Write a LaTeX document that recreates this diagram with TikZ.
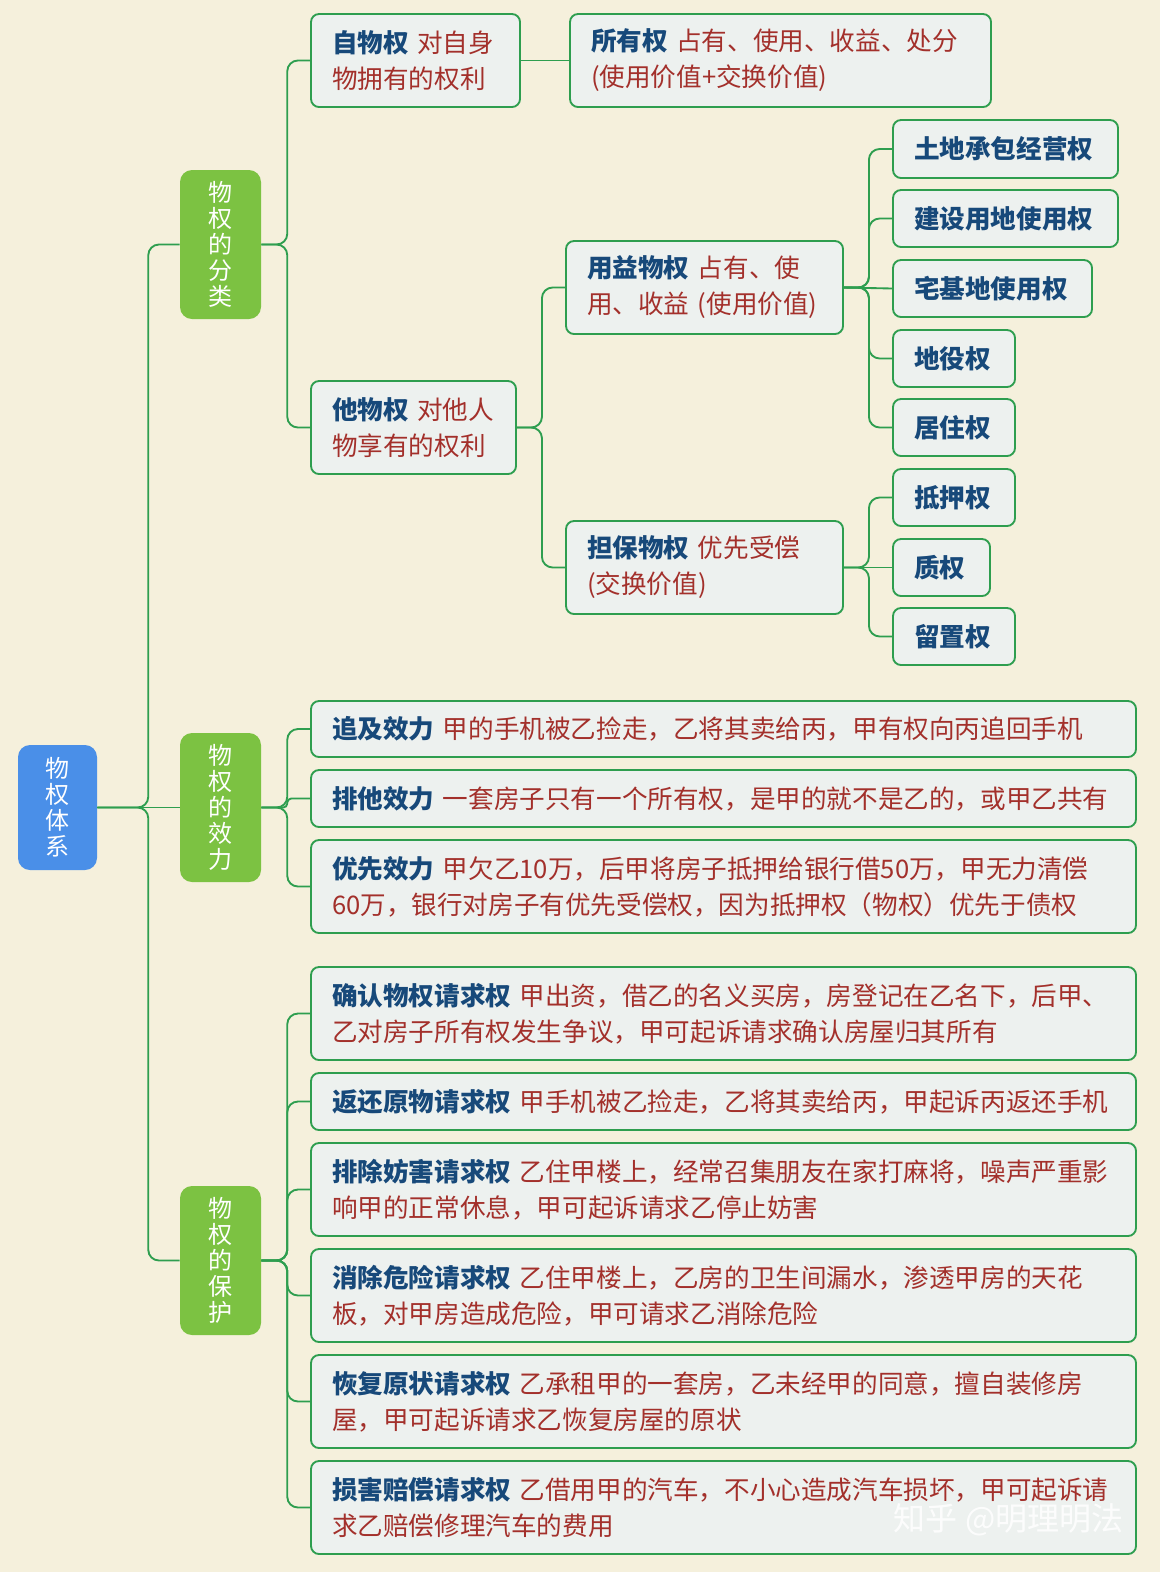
\documentclass[tikz,border=0pt]{standalone}
\usepackage{fontspec}
\setmainfont{Noto Sans CJK SC}
\XeTeXlinebreaklocale "zh"
\XeTeXlinebreakskip=0pt plus 1pt
\definecolor{bg}{HTML}{F5F0DC}
\definecolor{gl}{HTML}{2E9E4F}
\definecolor{bf}{HTML}{EDF1EF}
\definecolor{tb}{HTML}{17497A}
\definecolor{tr}{HTML}{A3302B}
\definecolor{cat}{HTML}{7CC242}
\definecolor{rt}{HTML}{4A8FE8}
\newcommand\T[1]{{\bfseries\color{tb}#1}}
\newcommand\bx[6]{%
 \pgfmathsetmacro\bw{(#4-#2)*0.75}\pgfmathsetmacro\bh{(#5-#3)*0.75}\pgfmathsetmacro\tw{(#4-#2-42)*0.75}%
 \node[box,minimum width=\bw pt,minimum height=\bh pt,text width=\tw pt] (#1) at ({(#2+#4)/2},{(#3+#5)/2}) {#6};}
\newcommand\cb[4]{%
 \node[catb,minimum height={(#3-#2)*0.75pt}] (#1) at (220.5,{(#2+#3)/2}) {#4};}
\begin{document}
\begin{tikzpicture}[x=0.75pt,y=-0.75pt,
 box/.style={draw=gl,line width=1.4pt,fill=bf,rounded corners=6pt,inner xsep=15.75pt,inner ysep=0pt,align=left,text=tr,font=\fontsize{19.2}{27}\selectfont},
 catb/.style={fill=cat,rounded corners=9pt,minimum width=60.75pt,text=white,align=center,font=\fontsize{18}{19.5}\selectfont,inner sep=0pt},
 ln/.style={draw=gl,line width=1.4pt,rounded corners=8pt}]
\fill[bg] (0,0) rectangle (1160,1572);
\node[fill=rt,rounded corners=9pt,minimum width=59.25pt,minimum height=93.75pt,text=white,align=center,font=\fontsize{18}{19.5}\selectfont,inner sep=0pt] (root) at (57.5,807.5) {物\\权\\体\\系};
\cb{c1}{170}{319}{物\\权\\的\\分\\类}
\cb{c2}{733}{882}{物\\权\\的\\效\\力}
\cb{c3}{1186}{1335}{物\\权\\的\\保\\护}
\bx{zw}{311}{14}{520}{107}{\T{自物权} 对自身\\物拥有的权利}
\bx{sy}{570}{14}{991}{107}{\T{所有权} 占有、使用、收益、处分\\(使用价值+交换价值)}
\bx{tw}{311}{381}{516}{474}{\T{他物权} 对他人\\物享有的权利}
\bx{yy}{566}{241}{843}{334}{\T{用益物权} 占有、使\\用、收益 (使用价值)}
\bx{db}{566}{521}{843}{614}{\T{担保物权} 优先受偿\\(交换价值)}
\bx{a1}{893}{120}{1118}{178}{\T{土地承包经营权}}
\bx{a2}{893}{190}{1118}{247}{\T{建设用地使用权}}
\bx{a3}{893}{260}{1092}{317}{\T{宅基地使用权}}
\bx{a4}{893}{330}{1015}{387}{\T{地役权}}
\bx{a5}{893}{399}{1015}{456}{\T{居住权}}
\bx{b1}{893}{469}{1015}{526}{\T{抵押权}}
\bx{b2}{893}{539}{990}{596}{\T{质权}}
\bx{b3}{893}{608}{1015}{665}{\T{留置权}}
\bx{e1}{311}{701}{1136}{757}{\T{追及效力} 甲的手机被乙捡走，乙将其卖给丙，甲有权向丙追回手机}
\bx{e2}{311}{770}{1136}{827}{\T{排他效力} 一套房子只有一个所有权，是甲的就不是乙的，或甲乙共有}
\bx{e3}{311}{840}{1136}{933}{\T{优先效力} 甲欠乙10万，后甲将房子抵押给银行借50万，甲无力清偿\\60万，银行对房子有优先受偿权，因为抵押权（物权）优先于债权}
\bx{p1}{311}{967}{1136}{1060}{\T{确认物权请求权} 甲出资，借乙的名义买房，房登记在乙名下，后甲、\\乙对房子所有权发生争议，甲可起诉请求确认房屋归其所有}
\bx{p2}{311}{1073}{1136}{1130}{\T{返还原物请求权} 甲手机被乙捡走，乙将其卖给丙，甲起诉丙返还手机}
\bx{p3}{311}{1143}{1136}{1236}{\T{排除妨害请求权} 乙住甲楼上，经常召集朋友在家打麻将，噪声严重影\\响甲的正常休息，甲可起诉请求乙停止妨害}
\bx{p4}{311}{1249}{1136}{1342}{\T{消除危险请求权} 乙住甲楼上，乙房的卫生间漏水，渗透甲房的天花\\板，对甲房造成危险，甲可请求乙消除危险}
\bx{p5}{311}{1355}{1136}{1448}{\T{恢复原状请求权} 乙承租甲的一套房，乙未经甲的同意，擅自装修房\\屋，甲可起诉请求乙恢复房屋的原状}
\bx{p6}{311}{1461}{1136}{1554}{\T{损害赔偿请求权} 乙借用甲的汽车，不小心造成汽车损坏，甲可起诉请\\求乙赔偿修理汽车的费用}
\foreach \c in {c1,c3} \draw[ln] (root.east) -- ++(51,0) |- (\c.west);
\draw[ln] (root.east) -- (c2.west);
\foreach \c in {zw,tw} \draw[ln] (c1.east) -- ++(26,0) |- (\c.west);
\draw[ln] (zw.east) -- (sy.west);
\foreach \c in {yy,db} \draw[ln] (tw.east) -- ++(25,0) |- (\c.west);
\foreach \c in {a1,a2,a4,a5} \draw[ln] (yy.east) -- ++(25,0) |- (\c.west);
\draw[ln] (yy.east) -- (a3.west);
\foreach \c in {b1,b3} \draw[ln] (db.east) -- ++(25,0) |- (\c.west);
\draw[ln] (db.east) -- (b2.west);
\foreach \c in {e1,e3} \draw[ln] (c2.east) -- ++(26,0) |- (\c.west);
\draw[ln,rounded corners=3pt] (c2.east) -- ++(26,0) |- (e2.west);
\foreach \c in {p1,p2,p3,p4,p5,p6} \draw[ln] (c3.east) -- ++(26,0) |- (\c.west);
\node[text=white,opacity=0.85,font=\fontsize{24}{28}\selectfont,anchor=east] (wm) at (1128,1520) {知乎 @明理明法};
\end{tikzpicture}
\end{document}
